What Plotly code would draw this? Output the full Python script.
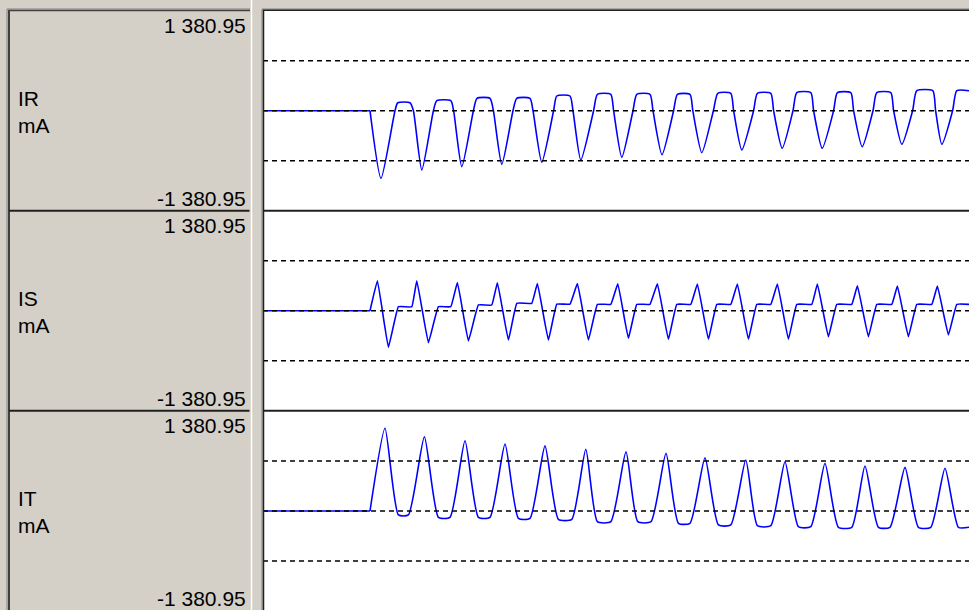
import plotly.graph_objects as go

W, H = 969, 610

# ---------------- data (time in ms, current in mA) ----------------
FULL_SCALE = 1380.95
fault_start_t = 53.5
t_end = 353.0

# IR channel
ir_trough_t = [59.0, 79.4, 99.4, 119.4, 139.4, 158.9, 179.4, 199.5, 219.4, 239.4, 259.6, 279.6, 299.6, 319.4, 339.4]
ir_trough_v = [-934, -819, -773, -740, -711, -681, -644, -608, -580, -543, -519, -519, -497, -464, -464]
ir_up_t     = [66.0, 85.2, 105.2, 125.0, 145.3, 165.3, 185.0, 205.3, 225.2, 245.3, 265.0, 285.3, 305.0, 324.8, 344.8]
ir_top_t0   = [67.4, 86.9, 107.0, 126.9, 146.9, 167.2, 186.9, 207.2, 227.4, 247.2, 266.9, 287.2, 306.9, 326.9, 346.9]
ir_top_t1   = [73.5, 93.9, 113.5, 133.5, 153.5, 173.9, 193.5, 213.5, 233.9, 253.9, 273.9, 293.9, 313.9, 334.9, 353.0]
ir_top_v    = [110, 138, 171, 171, 203, 226, 226, 226, 240, 240, 249, 249, 249, 276, 276]
ir_down_t   = [75.2, 95.3, 115.2, 135.0, 155.0, 175.3, 195.0, 214.9, 235.3, 255.3, 275.3, 295.3, 315.3, 336.3]

# IS channel
is_peak_t   = [57.2, 76.9, 97.2, 117.2, 137.2, 157.2, 177.4, 197.2, 217.2, 237.2, 257.2, 277.2, 297.2, 317.2, 337.2]
is_peak_v   = [414, 414, 390, 387, 375, 375, 372, 372, 369, 369, 369, 369, 345, 341, 341]
is_trough_t = [62.7, 82.7, 102.7, 122.7, 142.7, 162.7, 182.7, 202.7, 222.7, 242.7, 262.7, 282.7, 302.7, 322.7, 342.7]
is_trough_v = [-505, -442, -418, -405, -405, -405, -381, -395, -395, -395, -395, -359, -359, -359, -336]
is_flat_t0  = [67.7, 87.7, 107.7, 126.9, 146.9, 167.2, 186.9, 206.9, 226.9, 246.9, 266.9, 286.9, 306.9, 326.9, 346.9]
is_flat_t1  = [74.4, 93.9, 114.4, 134.4, 153.5, 173.9, 193.5, 213.9, 233.9, 253.9, 274.4, 294.4, 314.4, 334.4, 353.0]
is_flat_v   = [55, 55, 79, 102, 90, 88, 88, 88, 88, 88, 88, 88, 88, 88, 88]

# IT channel
it_peak_t   = [61.0, 80.7, 101.0, 121.0, 141.0, 161.4, 181.5, 201.5, 221.0, 241.4, 261.0, 281.0, 301.0, 321.0, 341.0]
it_peak_v   = [1142, 1026, 971, 925, 899, 852, 819, 797, 736, 704, 681, 659, 621, 603, 590]
it_low_t0   = [67.7, 87.7, 107.7, 127.7, 147.7, 167.2, 187.4, 207.7, 227.7, 247.2, 267.7, 287.7, 307.7, 327.7, 347.7]
it_low_t1   = [72.7, 93.5, 113.5, 133.5, 154.4, 173.9, 194.0, 213.5, 233.9, 253.9, 273.9, 294.4, 313.5, 333.9, 353.0]
it_low_v    = [-55, -87, -87, -101, -115, -148, -148, -170, -193, -203, -217, -225, -225, -225, -225]

channel_names = ["IR", "IS", "IT"]
unit = "mA"
top_label = "1 380.95"
bottom_label = "-1 380.95"

# ---------------- build polylines from the read key points ----------------
def build_ir():
    xs, ys = [fault_start_t], [0]
    for i in range(len(ir_trough_t)):
        xs += [ir_trough_t[i], ir_up_t[i], ir_top_t0[i], ir_top_t1[i]]
        ys += [ir_trough_v[i], 0, ir_top_v[i], ir_top_v[i]]
        if i < len(ir_down_t):
            xs.append(ir_down_t[i]); ys.append(0)
    return xs, ys

def build_is():
    xs, ys = [fault_start_t], [0]
    for i in range(len(is_peak_t)):
        xs += [is_peak_t[i], is_trough_t[i], is_flat_t0[i], is_flat_t1[i]]
        ys += [is_peak_v[i], is_trough_v[i], is_flat_v[i], is_flat_v[i]]
    return xs, ys

def build_it():
    xs, ys = [fault_start_t], [0]
    for i in range(len(it_peak_t)):
        xs += [it_peak_t[i], it_low_t0[i], it_low_t1[i]]
        ys += [it_peak_v[i], it_low_v[i], it_low_v[i]]
    return xs, ys

series = [build_ir(), build_is(), build_it()]
line_shapes = [("spline", 0.6), ("spline", 0.25), ("spline", 0.55)]

# ---------------- layout helpers (pixel -> paper) ----------------
def px(x):
    return x / W

def py(y):
    return 1 - y / H

plot_left = 263
panel_tops = [10.7, 210.7, 410.7]
panel_h = 200.0
ranges = [
    (-FULL_SCALE, FULL_SCALE),
    (-FULL_SCALE, FULL_SCALE),
    (-(610 - 511) / 100 * FULL_SCALE, (511 - 410.7) / 100 * FULL_SCALE),
]

fig = go.Figure()
layout = dict(
    width=W, height=H,
    margin=dict(l=0, r=0, t=0, b=0),
    paper_bgcolor="#D4D0C8",
    plot_bgcolor="#FFFFFF",
    showlegend=False,
)

shapes = []
annotations = []
for k in range(3):
    ax = "" if k == 0 else str(k + 1)
    top = panel_tops[k]
    bot = min(top + panel_h, H)
    layout["xaxis" + ax] = dict(
        domain=[px(plot_left), 1.0], range=[0, t_end],
        showticklabels=False, showgrid=False, zeroline=False, showline=False,
        ticks="", anchor="y" + ax, fixedrange=True,
    )
    layout["yaxis" + ax] = dict(
        domain=[py(bot), py(top)], range=list(ranges[k]),
        showticklabels=False, showgrid=False, zeroline=False, showline=False,
        ticks="", anchor="x" + ax, fixedrange=True,
    )
    # pre-fault baseline
    fig.add_trace(go.Scatter(
        x=[0, fault_start_t], y=[0, 0], mode="lines", xaxis="x" + ax, yaxis="y" + ax,
        line=dict(color="#0000FF", width=1.6), hoverinfo="skip",
    ))
    xs, ys = series[k]
    shp, sm = line_shapes[k]
    fig.add_trace(go.Scatter(
        x=xs, y=ys, mode="lines", xaxis="x" + ax, yaxis="y" + ax,
        line=dict(color="#0000FF", width=1.6, shape=shp, smoothing=sm),
        hoverinfo="skip",
    ))
    for lvl in (FULL_SCALE / 2, 0, -FULL_SCALE / 2):
        shapes.append(dict(
            type="line", xref="x" + ax + " domain", yref="y" + ax,
            x0=0, x1=1, y0=lvl, y1=lvl, layer="above",
            line=dict(color="#000000", width=1.5, dash="5px,4px"),
        ))
    annotations += [
        dict(text=top_label, x=px(248), y=py(top + 14.5), xanchor="right", yanchor="middle"),
        dict(text=bottom_label, x=px(248), y=py(top + 187.5), xanchor="right", yanchor="middle"),
        dict(text=channel_names[k], x=px(16), y=py(top + 87.5), xanchor="left", yanchor="middle"),
        dict(text=unit, x=px(16), y=py(top + 114.5), xanchor="left", yanchor="middle"),
    ]

for a in annotations:
    a.update(xref="paper", yref="paper", showarrow=False,
             font=dict(family="Liberation Sans, Arial, sans-serif", size=21, color="#000000"))

def pline(x0, y0, x1, y1, color, width):
    shapes.append(dict(type="line", xref="paper", yref="paper",
                       x0=px(x0), y0=py(y0), x1=px(x1), y1=py(y1),
                       line=dict(color=color, width=width), layer="above"))

# label-column frame
pline(7, 9, 7, H, "#808080", 1)
pline(9, 10, 9, H, "#404040", 2)
pline(7, 9, 250, 9, "#808080", 1)
pline(8, 10.5, 250, 10.5, "#404040", 1.5)
pline(251.5, 0, 251.5, H, "#FFFFFF", 1.5)
# plot frame
pline(262, 9, 262, H, "#808080", 1)
pline(263.5, 10, 263.5, H, "#202020", 1.5)
pline(262, 9, W, 9, "#808080", 1)
pline(263, 10.3, W, 10.3, "#202020", 1.5)
# panel separators
for k in (1, 2):
    y = panel_tops[k]
    pline(9, y, 249.5, y, "#202020", 2)
    pline(263, y, W, y, "#202020", 2)

layout["shapes"] = shapes
layout["annotations"] = annotations
fig.update_layout(**layout)
fig.write_html(
    "out.html",
    config={"displayModeBar": False, "staticPlot": True},
    post_script="document.body.style.margin='0px';document.body.style.padding='0px';",
)
